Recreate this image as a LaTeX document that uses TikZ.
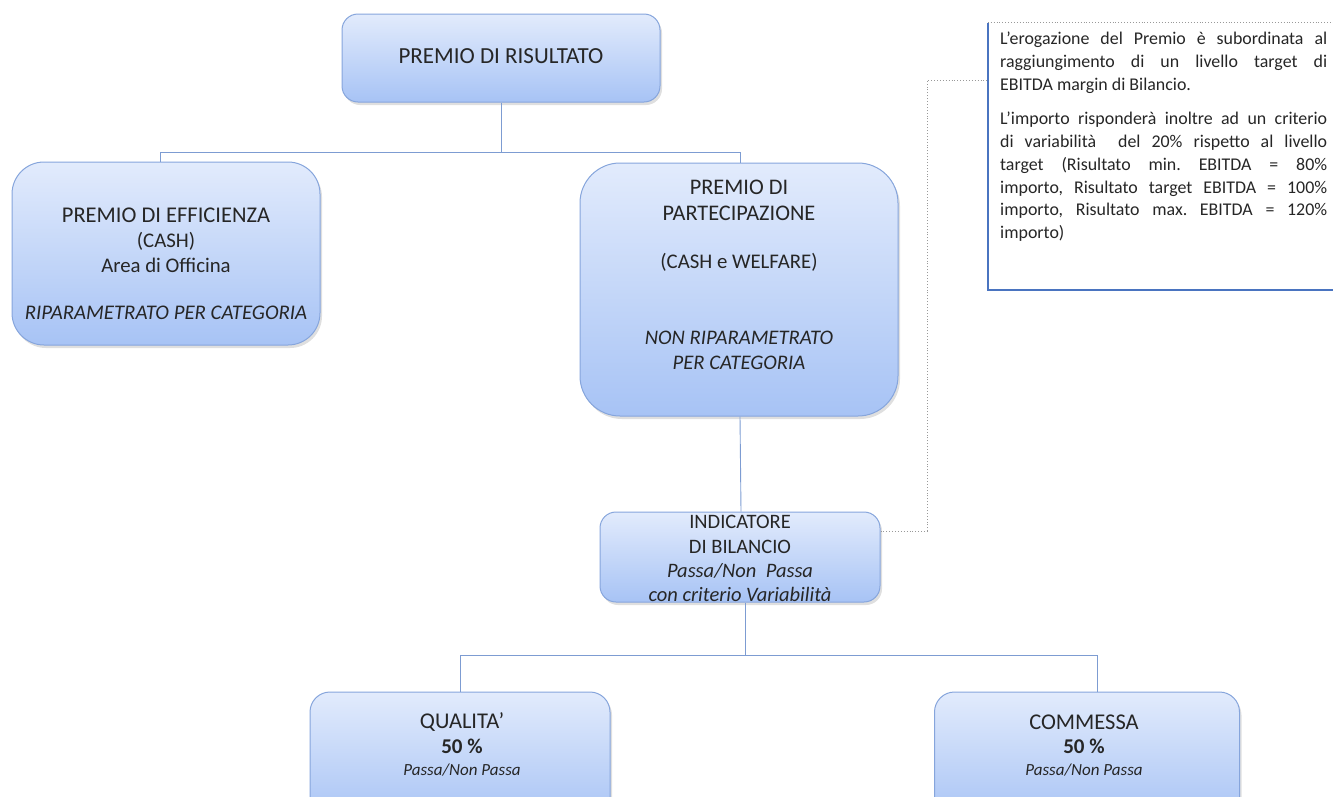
\documentclass[tikz,border=0pt]{standalone}
\usepackage{fontspec}
\setmainfont{Carlito}
\usetikzlibrary{shadows,calc}
\definecolor{boxtop}{HTML}{E2EBFC}
\definecolor{boxbot}{HTML}{A7C3F5}
\definecolor{boxline}{HTML}{86A5DC}
\definecolor{conn}{HTML}{7D9CD2}
\definecolor{noteblue}{HTML}{4A74C0}
\definecolor{txt}{HTML}{262626}
\tikzset{
  pbox/.style={draw=boxline, line width=1pt, top color=boxtop, bottom color=boxbot,
    align=center, text=txt,
    drop shadow={opacity=0.25, shadow xshift=2pt, shadow yshift=-3pt}},
  lbl/.style={text=txt, inner sep=0pt, font=\fontsize{#1}{25}\selectfont},
  lbli/.style={text=txt, inner sep=0pt, font=\fontsize{#1}{25}\selectfont\itshape},
  lblb/.style={text=txt, inner sep=0pt, font=\fontsize{#1}{25}\selectfont\bfseries},
  conline/.style={draw=conn, line width=0.9pt},
  dotline/.style={draw=gray!80, line width=0.9pt, dotted},
}
\begin{document}
\begin{tikzpicture}[x=1pt,y=-1pt]
\useasboundingbox (0,0) rectangle (1333,796);
\clip (0,0) rectangle (1333,796);
% boxes
\node[pbox, rounded corners=16pt, minimum width=318pt, minimum height=88pt] (top) at (501,58) {};
\node[lbl=23] at (501,56) {PREMIO DI RISULTATO};
\node[pbox, rounded corners=32pt, minimum width=308pt, minimum height=183pt] (eff) at (166,253.5) {};
\node[lbl=22.5] at (166,215) {PREMIO DI EFFICIENZA};
\node[lbl=20.8] at (166,241) {(CASH)};
\node[lbl=20.8] at (166,265) {Area di Officina};
\node[lbli=20.8] at (166,313) {RIPARAMETRATO PER CATEGORIA};
\node[pbox, rounded corners=40pt, minimum width=318pt, minimum height=253pt] (part) at (739,289.5) {};
\node[lbl=22.3] at (739,187) {PREMIO DI};
\node[lbl=22.3] at (739,213) {PARTECIPAZIONE};
\node[lbl=20.8] at (739,262) {(CASH e WELFARE)};
\node[lbli=20.7] at (739,338) {NON RIPARAMETRATO};
\node[lbli=20.7] at (739,363) {PER CATEGORIA};
\node[pbox, rounded corners=16pt, minimum width=280pt, minimum height=90pt] (ind) at (740,557) {};
\node[lbl=20.5] at (740,522) {INDICATORE};
\node[lbl=20.5] at (740,547) {DI BILANCIO};
\node[lbli=20.5] at (740,571) {Passa/Non\ \ Passa};
\node[lbli=20.5] at (740,594) {con criterio Variabilità};
\node[pbox, rounded corners=20pt, minimum width=300pt, minimum height=130pt] (qual) at (460,757) {};
\node[lbl=22.5] at (462,722) {QUALITA’};
\node[lblb=21] at (462,746) {50 \%};
\node[lbli=17] at (462,770) {Passa/Non Passa};
\node[pbox, rounded corners=20pt, minimum width=305pt, minimum height=130pt] (comm) at (1087,757) {};
\node[lbl=22.5] at (1084,722) {COMMESSA};
\node[lblb=21] at (1084,746) {50 \%};
\node[lbli=17] at (1084,770) {Passa/Non Passa};
% note box
\node[fill=white, minimum width=360pt, minimum height=267pt, inner sep=0pt] (note) at (1168,156.5) {};
\draw[dotline] (note.north west) -- (note.north east);
\draw[noteblue, line width=2pt] (note.north west) -- (note.south west) -- (note.south east);
\node[anchor=north west, inner sep=0pt, text=txt] (notetext) at (1000,32) {\parbox{327pt}{\fontsize{17.9}{22.7}\selectfont\frenchspacing\setlength{\parskip}{12pt}\hyphenpenalty=10000 \exhyphenpenalty=10000 \hbadness=10000
L’erogazione del Premio è subordinata al\linebreak
raggiungimento di un livello target di\linebreak
EBITDA margin di Bilancio.\par
L’importo risponderà inoltre ad un criterio\linebreak
di variabilità\ \ del 20\% rispetto al livello\linebreak
target (Risultato min. EBITDA = 80\%\linebreak
importo, Risultato target EBITDA = 100\%\linebreak
importo, Risultato max. EBITDA = 120\%\linebreak
importo)}};
% connectors
\coordinate (j1) at ($(top.south)+(0,50)$);
\draw[conline] (top.south) -- (j1);
\draw[conline] ([xshift=-6pt]eff.north) |- (j1) -| ([xshift=1pt]part.north);
\draw[conline] ([xshift=1pt]part.south) -- ([xshift=1pt]ind.north);
\coordinate (j2) at ($([xshift=5pt]ind.south)+(0,53)$);
\draw[conline] ([xshift=5pt]ind.south) -- (j2);
\draw[conline] (qual.north) |- (j2) -| ([xshift=10pt]comm.north);
\coordinate (d1) at (927,531);
\coordinate (d2) at (927,80);
\draw[dotline] (ind.east |- d1) -- (d1) -- (d2) -- (note.west |- d2);
\end{tikzpicture}
\end{document}
